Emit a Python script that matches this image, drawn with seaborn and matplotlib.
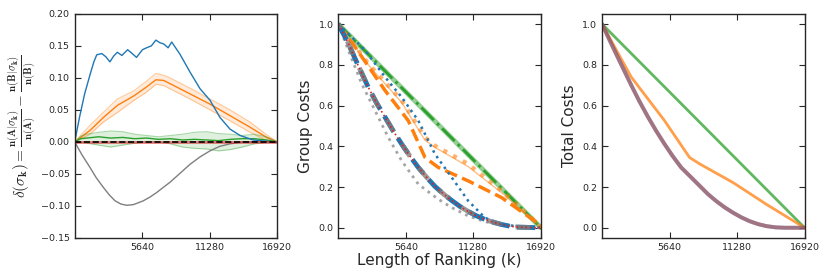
import matplotlib
matplotlib.use('Agg')
import matplotlib.pyplot as plt
import seaborn as sns

# --- panel 1: delta(sigma_k)
k_blue = [0, 420, 830, 1280, 1600, 1840, 2260, 2600, 2940, 3250, 3560, 3940, 4420, 4800, 5160,
          5660, 6000, 6400, 6780, 7100, 7430, 7800, 8100, 8790, 9630, 10470, 11300,
          12140, 12970, 13810, 14920, 16030, 16920]
blue = [0.0, 0.040, 0.075, 0.105, 0.125, 0.136, 0.138, 0.133, 0.125, 0.134, 0.140, 0.135, 0.144,
        0.138, 0.132, 0.144, 0.147, 0.150, 0.159, 0.155, 0.153, 0.147, 0.156, 0.137, 0.109,
        0.083, 0.065, 0.038, 0.020, 0.010, 0.003, 0.001, 0.0]

k_orange = [0, 1280, 2390, 3560, 4950, 5940, 6780, 7430, 7960, 9630, 11300, 12970, 14640, 16030, 16920]
orange_mean = [0.0, 0.018, 0.038, 0.057, 0.072, 0.085, 0.097, 0.096, 0.091, 0.075, 0.059, 0.041, 0.023, 0.007, 0.0]
orange_up = [0.0, 0.026, 0.046, 0.067, 0.080, 0.094, 0.107, 0.104, 0.100, 0.084, 0.067, 0.050, 0.031, 0.011, 0.0]
orange_low = [0.0, 0.012, 0.031, 0.046, 0.065, 0.077, 0.090, 0.088, 0.083, 0.067, 0.050, 0.033, 0.015, 0.002, 0.0]

k_green = [0, 500, 1000, 2000, 3000, 4000, 5000, 6000, 7000, 8000, 9000, 10000, 11000,
           12000, 13000, 14000, 15000, 16000, 16920]
green_mean = [0.0, 0.005, 0.006, 0.008, 0.006, 0.007, 0.005, 0.006, 0.004, 0.005, 0.003,
              0.004, 0.003, 0.002, 0.004, 0.005, 0.005, 0.003, 0.0]
green_up = [0.0, 0.009, 0.012, 0.015, 0.017, 0.016, 0.012, 0.010, 0.008, 0.010, 0.012,
            0.015, 0.016, 0.013, 0.012, 0.010, 0.012, 0.008, 0.0]
green_low = [0.0, 0.0, -0.002, -0.005, -0.008, -0.005, -0.002, 0.0, 0.0, -0.003, -0.008,
             -0.010, -0.011, -0.014, -0.012, -0.008, -0.003, -0.001, 0.0]

k_gray = [0, 600, 1280, 1800, 2390, 2900, 3370, 3850, 4340, 4900, 5730, 6300, 6850, 7400,
          7960, 8800, 9630, 10500, 11300, 12100, 12970, 14060, 16920]
gray = [0.0, -0.020, -0.040, -0.056, -0.071, -0.083, -0.092, -0.097, -0.099, -0.098, -0.092,
        -0.086, -0.079, -0.071, -0.063, -0.049, -0.035, -0.023, -0.014, -0.007, -0.003, 0.0, 0.0]

k_zero = [0, 16920]
zero = [0.0, 0.0]

# --- panel 2: group costs
k_lin = [0, 16920]
lin = [1.0, 0.0]

k_od = [0, 2500, 5290, 7240, 8070, 10850, 13640, 16420, 16920]
orange_dot = [1.0, 0.806, 0.625, 0.444, 0.403, 0.313, 0.181, 0.033, 0.0]
orange_sol = [1.0, 0.80, 0.615, 0.430, 0.395, 0.300, 0.172, 0.030, 0.0]

k_odash = [0, 1390, 3900, 5840, 7240, 8350, 10850, 13640, 16420, 16920]
orange_dash = [1.0, 0.888, 0.674, 0.526, 0.345, 0.296, 0.230, 0.148, 0.033, 0.0]

k_bdot = [0, 2230, 3900, 5290, 6680, 8070, 9470, 10850, 12250, 13640, 15500, 16920]
blue_dot = [1.0, 0.872, 0.740, 0.641, 0.526, 0.362, 0.247, 0.132, 0.049, 0.017, 0.003, 0.0]

k_conv = [0, 835, 1670, 2500, 3200, 3900, 4600, 5290, 6000, 6680, 7400, 8070, 8800, 9470,
          10150, 10850, 11550, 12250, 12950, 13640, 14300, 15000, 16920]
blue_dash = [1.0, 0.905, 0.795, 0.690, 0.612, 0.543, 0.474, 0.411, 0.350, 0.296, 0.246, 0.203,
             0.165, 0.134, 0.105, 0.080, 0.058, 0.041, 0.027, 0.016, 0.008, 0.003, 0.0]

k_gdot = [0, 835, 1950, 3060, 4170, 5290, 6680, 8350, 9470, 10850, 12250, 13640, 16920]
gray_dot = [1.0, 0.872, 0.707, 0.576, 0.444, 0.329, 0.214, 0.140, 0.099, 0.058, 0.030, 0.013, 0.0]

# --- panel 3: total costs
k_tor = [0, 2440, 5220, 7310, 8170, 10940, 13730, 16920]
total_orange = [1.0, 0.740, 0.526, 0.345, 0.313, 0.222, 0.115, 0.0]

k_tm = [0, 1060, 2440, 3130, 3830, 4520, 5220, 5900, 6610, 7400, 8170, 8850, 9560, 10250,
        10940, 11640, 12340, 13030, 13730, 14500, 15300, 16920]
total_mauve = [1.0, 0.868, 0.700, 0.620, 0.545, 0.476, 0.411, 0.352, 0.296, 0.250, 0.205,
               0.165, 0.130, 0.100, 0.074, 0.051, 0.032, 0.018, 0.008, 0.002, 0.0, 0.0]

xticks = [5640, 11280, 16920]

sns.set_style('ticks')
plt.rcParams['font.family'] = ['DejaVu Sans']
plt.rcParams['mathtext.fontset'] = 'cm'

c = sns.color_palette('tab10')
blue_c, orange_c, green_c, red_c, purple_c, brown_c, gray_c = c[0], c[1], c[2], c[3], c[4], c[5], c[7]

fig = plt.figure(figsize=(8.3, 2.77), dpi=100)
ax1 = fig.add_axes([0.090, 0.141, 0.2441, 0.809])
ax2 = fig.add_axes([0.4076, 0.141, 0.2441, 0.809])
ax3 = fig.add_axes([0.7253, 0.141, 0.2441, 0.809])

# panel 1
ax1.fill_between(k_orange, orange_low, orange_up, color=orange_c, alpha=0.15, lw=0)
sns.lineplot(x=k_orange, y=orange_up, ax=ax1, color=orange_c, alpha=0.4, lw=0.8)
sns.lineplot(x=k_orange, y=orange_low, ax=ax1, color=orange_c, alpha=0.4, lw=0.8)
sns.lineplot(x=k_orange, y=orange_mean, ax=ax1, color=orange_c, lw=1.0)
ax1.fill_between(k_green, green_low, green_up, color=green_c, alpha=0.15, lw=0)
sns.lineplot(x=k_green, y=green_up, ax=ax1, color=green_c, alpha=0.4, lw=0.8)
sns.lineplot(x=k_green, y=green_low, ax=ax1, color=green_c, alpha=0.4, lw=0.8)
sns.lineplot(x=k_green, y=green_mean, ax=ax1, color=green_c, lw=1.0)
sns.lineplot(x=k_blue, y=blue, ax=ax1, color=blue_c, lw=1.0)
sns.lineplot(x=k_gray, y=gray, ax=ax1, color=gray_c, lw=1.0)
sns.lineplot(x=k_zero, y=zero, ax=ax1, color=red_c, lw=2.0, alpha=0.6)
sns.lineplot(x=k_zero, y=zero, ax=ax1, color='black', lw=1.2, linestyle='--')
ax1.set_ylim(-0.15, 0.20)
ax1.set_yticks([-0.15, -0.10, -0.05, 0.00, 0.05, 0.10, 0.15, 0.20])
ax1.set_ylabel(r'$\delta(\sigma_\mathbf{k}) = \frac{\mathbf{n}(\mathbf{A}|\sigma_\mathbf{k})}{\mathbf{n}(\mathbf{A})}'
               r' - \frac{\mathbf{n}(\mathbf{B}|\sigma_\mathbf{k})}{\mathbf{n}(\mathbf{B})}$', fontsize=11, labelpad=2)

# panel 2
sns.lineplot(x=k_lin, y=lin, ax=ax2, color=green_c, lw=3.5, alpha=0.5)
sns.lineplot(x=k_lin, y=lin, ax=ax2, color=green_c, lw=2.0, linestyle='-.')
sns.lineplot(x=k_od, y=orange_sol, ax=ax2, color=orange_c, lw=1.0, alpha=0.5)
sns.lineplot(x=k_od, y=orange_dot, ax=ax2, color=orange_c, lw=3.0, alpha=0.6, linestyle=':')
sns.lineplot(x=k_odash, y=orange_dash, ax=ax2, color=orange_c, lw=2.5, linestyle='--')
sns.lineplot(x=k_bdot, y=blue_dot, ax=ax2, color=blue_c, lw=1.8, linestyle=':')
sns.lineplot(x=k_gdot, y=gray_dot, ax=ax2, color=gray_c, lw=2.0, alpha=0.7, linestyle=':')
sns.lineplot(x=k_conv, y=blue_dash, ax=ax2, color=blue_c, lw=3.5, linestyle='--')
sns.lineplot(x=k_conv, y=blue_dash, ax=ax2, color=gray_c, lw=3.5, alpha=0.8, linestyle=(2, (3, 3)))
sns.lineplot(x=k_conv, y=blue_dash, ax=ax2, color=red_c, lw=1.2, linestyle=':')
ax2.set_ylim(-0.05, 1.05)
ax2.set_ylabel('Group Costs', fontsize=11, labelpad=4)
ax2.set_xlabel('Length of Ranking (k)', fontsize=11, labelpad=1)

# panel 3
sns.lineplot(x=k_lin, y=lin, ax=ax3, color=green_c, lw=2.0, alpha=0.75)
sns.lineplot(x=k_tor, y=total_orange, ax=ax3, color=orange_c, lw=2.0, alpha=0.75)
sns.lineplot(x=k_tm, y=total_mauve, ax=ax3, color=purple_c, lw=2.8, alpha=0.6)
sns.lineplot(x=k_tm, y=total_mauve, ax=ax3, color=brown_c, lw=2.8, alpha=0.6)
ax3.set_ylim(-0.05, 1.05)
ax3.set_ylabel('Total Costs', fontsize=11, labelpad=4)

for ax in (ax1, ax2, ax3):
    ax.set_xlim(0, 16920)
    ax.set_xticks(xticks)
    ax.tick_params(direction='in', top=True, right=True, labelsize=6.8, length=4)
    for s in ax.spines.values():
        s.set_visible(True)
        s.set_linewidth(1.0)
    if ax is not ax2:
        ax.set_xlabel('')

fig.savefig('out.png', dpi=100)
